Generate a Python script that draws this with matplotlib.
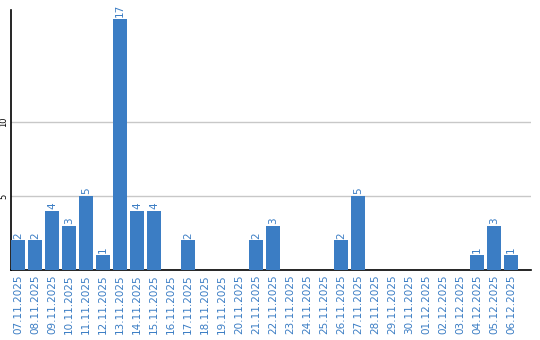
import numpy as np
import matplotlib
matplotlib.use("Agg")
import matplotlib.pyplot as plt

# daty i wartości
dates = ["07.11.2025", "08.11.2025", "09.11.2025", "10.11.2025", "11.11.2025",
         "12.11.2025", "13.11.2025", "14.11.2025", "15.11.2025", "16.11.2025",
         "17.11.2025", "18.11.2025", "19.11.2025", "20.11.2025", "21.11.2025",
         "22.11.2025", "23.11.2025", "24.11.2025", "25.11.2025", "26.11.2025",
         "27.11.2025", "28.11.2025", "29.11.2025", "30.11.2025", "01.12.2025",
         "02.12.2025", "03.12.2025", "04.12.2025", "05.12.2025", "06.12.2025"]
values = [2, 2, 4, 3, 5, 1, 17, 4, 4, 0,
          2, 0, 0, 0, 2, 3, 0, 0, 0, 2,
          5, 0, 0, 0, 0, 0, 0, 1, 3, 1]
yticks = [5, 10]

blue = "#3b7dc4"

fig = plt.figure(figsize=(5.4, 3.4), dpi=100)
ax = fig.add_axes([0.0204, 0.206, 0.963, 0.765])

x = np.arange(len(dates))
ax.bar(x, values, width=0.82, color=blue, zorder=3)

for xi, v in zip(x, values):
    if v > 0:
        ax.text(xi, v + 0.12, str(v), rotation=90, ha="center", va="bottom",
                color=blue, fontsize=7.5)

ax.set_xlim(-0.41, 30.18)
ax.set_ylim(0, 17.6)
ax.set_yticks(yticks)
ax.set_yticklabels([str(t) for t in yticks], rotation=90, va="center", fontsize=6)
ax.yaxis.grid(True, color="#c8c8c8", linewidth=1, zorder=0)

ax.set_xticks(x)
ax.set_xticklabels(dates, rotation=90, color=blue, fontsize=7.5)
ax.tick_params(length=0, pad=3)
ax.tick_params(axis="y", pad=2)

ax.spines["top"].set_visible(False)
ax.spines["right"].set_visible(False)
ax.spines["left"].set_linewidth(1.2)
ax.spines["bottom"].set_linewidth(1.2)

fig.savefig("out.png", dpi=100)
